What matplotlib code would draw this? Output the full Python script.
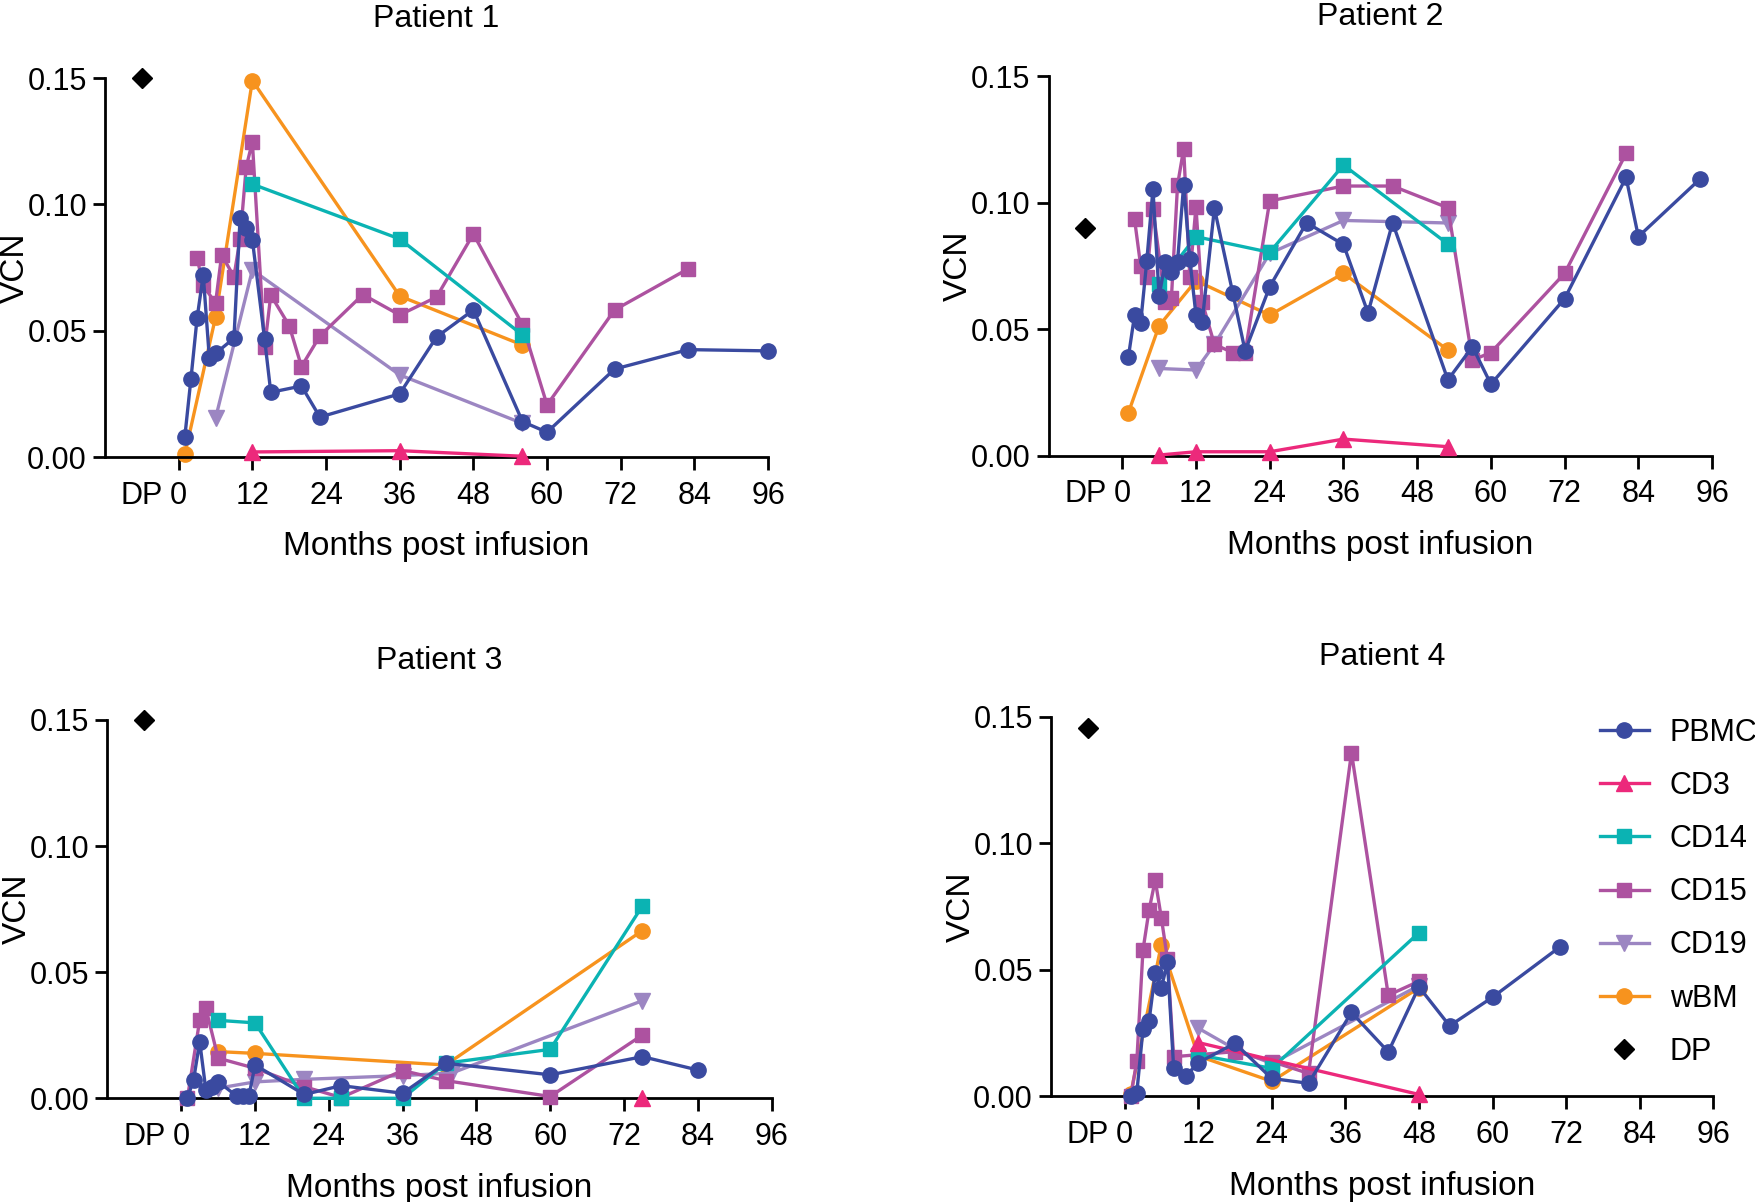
import matplotlib
matplotlib.use('Agg')
import matplotlib.pyplot as plt
from matplotlib.lines import Line2D

plt.rcParams['font.family'] = ['Liberation Sans', 'DejaVu Sans']

# series styles (legend order)
cell_types = ['PBMC', 'CD3', 'CD14', 'CD15', 'CD19', 'wBM']
colors = {'PBMC': '#3A4AA0', 'CD3': '#EC297B', 'CD14': '#0BB3B3',
          'CD15': '#AD52A0', 'CD19': '#9C86C2', 'wBM': '#F7931E'}
markers = {'PBMC': 'o', 'CD3': '^', 'CD14': 's', 'CD15': 's', 'CD19': 'v', 'wBM': 'o'}
month_ticks = [0, 12, 24, 36, 48, 60, 72, 84, 96]
vcn_ticks = [0.0, 0.05, 0.10, 0.15]
dp_month = -6

# ---- Patient 1
p1_pbmc_m = [1, 2, 3, 4, 5, 6, 9, 10, 11, 12, 14, 15, 20, 23, 36, 42, 48, 56, 60, 71, 83, 96]
p1_pbmc_v = [0.008, 0.031, 0.055, 0.072, 0.039, 0.041, 0.047, 0.0945, 0.0905, 0.086, 0.0466,
             0.0256, 0.0281, 0.0158, 0.025, 0.0475, 0.0582, 0.014, 0.0098, 0.0348, 0.0425, 0.042]
p1_cd3_m = [12, 36, 56]
p1_cd3_v = [0.002, 0.0025, 0.0003]
p1_cd14_m = [12, 36, 56]
p1_cd14_v = [0.108, 0.0863, 0.0483]
p1_cd15_m = [3, 4, 6, 7, 9, 10, 11, 12, 14, 15, 18, 20, 23, 30, 36, 42, 48, 56, 60, 71, 83]
p1_cd15_v = [0.0787, 0.068, 0.0608, 0.080, 0.0714, 0.0863, 0.1148, 0.1247, 0.0434, 0.0641, 0.052,
             0.0358, 0.0479, 0.0643, 0.0562, 0.0633, 0.0883, 0.0523, 0.0206, 0.0582, 0.0745]
p1_cd19_m = [6, 12, 36, 56]
p1_cd19_v = [0.0153, 0.074, 0.0325, 0.0133]
p1_wbm_m = [1, 6, 12, 36, 56]
p1_wbm_v = [0.001, 0.0553, 0.149, 0.0637, 0.0443]
p1_dp = 0.150

# ---- Patient 2
p2_pbmc_m = [1, 2, 3, 4, 5, 6, 7, 8, 9, 10, 11, 12, 13, 15, 18, 20, 24, 30, 36, 40, 44, 53,
             57, 60, 72, 82, 84, 94]
p2_pbmc_v = [0.0391, 0.0555, 0.0526, 0.0771, 0.1054, 0.0631, 0.0767, 0.0727, 0.0767, 0.1072,
             0.0776, 0.0556, 0.0527, 0.0978, 0.0642, 0.0414, 0.0668, 0.0921, 0.0835, 0.0565,
             0.0921, 0.030, 0.0431, 0.0283, 0.0621, 0.110, 0.0866, 0.1093]
p2_cd3_m = [6, 12, 24, 36, 53]
p2_cd3_v = [0.0003, 0.0016, 0.0016, 0.0066, 0.0036]
p2_cd14_m = [6, 12, 24, 36, 53]
p2_cd14_v = [0.068, 0.0866, 0.0804, 0.1149, 0.0837]
p2_cd15_m = [2, 3, 4, 5, 7, 8, 9, 10, 11, 12, 13, 15, 18, 20, 24, 36, 44, 53, 57, 60, 72, 82]
p2_cd15_v = [0.0935, 0.0751, 0.0705, 0.0975, 0.0609, 0.0622, 0.107, 0.1213, 0.0708, 0.0984,
             0.0609, 0.044, 0.0408, 0.0408, 0.1007, 0.1066, 0.1066, 0.098, 0.0378, 0.0408,
             0.0721, 0.1195]
p2_cd19_m = [6, 12, 15, 24, 36, 53]
p2_cd19_v = [0.0345, 0.0339, 0.044, 0.080, 0.093, 0.092]
p2_wbm_m = [1, 6, 12, 24, 36, 53]
p2_wbm_v = [0.017, 0.0514, 0.0692, 0.0556, 0.0721, 0.0418]
p2_dp = 0.0901

# ---- Patient 3
p3_pbmc_m = [1, 2, 3, 4, 5, 6, 9, 10, 11, 12, 20, 26, 36, 43, 60, 75, 84]
p3_pbmc_v = [0.0, 0.0073, 0.0224, 0.0033, 0.0046, 0.0066, 0.0009, 0.0009, 0.0009, 0.0132,
             0.0015, 0.005, 0.002, 0.0139, 0.0093, 0.0165, 0.0112]
p3_cd3_m = [75]
p3_cd3_v = [0.0]
p3_cd14_m = [6, 12, 20, 26, 36, 43, 60, 75]
p3_cd14_v = [0.0309, 0.0299, 0.0, 0.0, 0.0, 0.0139, 0.0194, 0.0763]
p3_cd15_m = [1, 3, 4, 6, 12, 20, 26, 36, 43, 60, 75]
p3_cd15_v = [0.0, 0.031, 0.0357, 0.0159, 0.0119, 0.0046, 0.0003, 0.011, 0.007, 0.0007, 0.0251]
p3_cd19_m = [6, 12, 20, 36, 44, 75]
p3_cd19_v = [0.004, 0.0065, 0.0075, 0.009, 0.010, 0.0387]
p3_wbm_m = [6, 12, 43, 75]
p3_wbm_v = [0.0185, 0.0178, 0.0132, 0.0665]
p3_dp = 0.150

# ---- Patient 4
p4_pbmc_m = [1, 2, 3, 4, 5, 6, 7, 8, 10, 12, 18, 24, 30, 37, 43, 48, 53, 60, 71]
p4_pbmc_v = [0.0, 0.0015, 0.0265, 0.030, 0.0488, 0.0429, 0.053, 0.0114, 0.0081, 0.0133, 0.021,
             0.0071, 0.0052, 0.0332, 0.0176, 0.0433, 0.0279, 0.0392, 0.0591]
p4_cd3_m = [12, 48]
p4_cd3_v = [0.0213, 0.0008]
p4_cd14_m = [12, 24, 48]
p4_cd14_v = [0.0164, 0.0111, 0.0647]
p4_cd15_m = [1, 2, 3, 4, 5, 6, 7, 8, 18, 24, 30, 37, 43, 48]
p4_cd15_v = [0.0, 0.014, 0.0578, 0.0737, 0.0855, 0.0705, 0.0542, 0.0157, 0.0177, 0.0138,
             0.0091, 0.1358, 0.040, 0.0455]
p4_cd19_m = [12, 18, 24, 48]
p4_cd19_v = [0.027, 0.0187, 0.013, 0.0438]
p4_wbm_m = [1, 6, 12, 24, 48]
p4_wbm_v = [0.001, 0.060, 0.016, 0.006, 0.0429]
p4_dp = 0.1456

panels = [
    ('Patient 1', [0.0598, 0.6198, 0.3776, 0.3153],
     {'PBMC': (p1_pbmc_m, p1_pbmc_v), 'CD3': (p1_cd3_m, p1_cd3_v), 'CD14': (p1_cd14_m, p1_cd14_v),
      'CD15': (p1_cd15_m, p1_cd15_v), 'CD19': (p1_cd19_m, p1_cd19_v), 'wBM': (p1_wbm_m, p1_wbm_v)},
     p1_dp),
    ('Patient 2', [0.5971, 0.6208, 0.3779, 0.3158],
     {'PBMC': (p2_pbmc_m, p2_pbmc_v), 'CD3': (p2_cd3_m, p2_cd3_v), 'CD14': (p2_cd14_m, p2_cd14_v),
      'CD15': (p2_cd15_m, p2_cd15_v), 'CD19': (p2_cd19_m, p2_cd19_v), 'wBM': (p2_wbm_m, p2_wbm_v)},
     p2_dp),
    ('Patient 3', [0.0612, 0.0863, 0.3782, 0.3147],
     {'PBMC': (p3_pbmc_m, p3_pbmc_v), 'CD3': (p3_cd3_m, p3_cd3_v), 'CD14': (p3_cd14_m, p3_cd14_v),
      'CD15': (p3_cd15_m, p3_cd15_v), 'CD19': (p3_cd19_m, p3_cd19_v), 'wBM': (p3_wbm_m, p3_wbm_v)},
     p3_dp),
    ('Patient 4', [0.5985, 0.0878, 0.3772, 0.3159],
     {'PBMC': (p4_pbmc_m, p4_pbmc_v), 'CD3': (p4_cd3_m, p4_cd3_v), 'CD14': (p4_cd14_m, p4_cd14_v),
      'CD15': (p4_cd15_m, p4_cd15_v), 'CD19': (p4_cd19_m, p4_cd19_v), 'wBM': (p4_wbm_m, p4_wbm_v)},
     p4_dp),
]

zorders = {'wBM': 2, 'CD19': 3, 'CD15': 4, 'CD14': 5, 'CD3': 6, 'PBMC': 7}
msizes = {'o': 11, 's': 10, '^': 11, 'v': 11}


def draw_panel(fig, title, rect, series, dp):
    ax = fig.add_axes(rect)
    for ct in reversed(cell_types):
        m, v = series[ct]
        mk = markers[ct]
        ax.plot(m, v, color=colors[ct], marker=mk, ms=msizes[mk], lw=2.4,
                clip_on=False, zorder=zorders[ct])
    ax.plot([dp_month], [dp], 'D', color='black', ms=10, clip_on=False, zorder=8)

    ax.set_xlim(-12, 96)
    ax.set_ylim(0, 0.15)
    ax.set_xticks([dp_month] + month_ticks)
    ax.set_xticklabels(['DP'] + [str(t) for t in month_ticks])
    ax.xaxis.get_major_ticks()[0].tick1line.set_visible(False)
    ax.set_yticks(vcn_ticks)
    ax.set_yticklabels(['%.2f' % t for t in vcn_ticks])
    for s in ['top', 'right']:
        ax.spines[s].set_visible(False)
    for s in ['left', 'bottom']:
        ax.spines[s].set_linewidth(2)
    ax.tick_params(length=9, width=2, labelsize=22)
    ax.tick_params(axis='x', pad=8)
    ax.tick_params(axis='y', pad=4)
    ax.set_xlabel('Months post infusion', fontsize=24, labelpad=15)
    ax.set_ylabel('VCN', fontsize=24)
    ax.yaxis.set_label_coords(-0.112, 0.5)
    ax.set_title(title, fontsize=23, pad=37)
    return ax


fig = plt.figure(figsize=(17.56, 12.02), dpi=100)
for title, rect, series, dp in panels:
    draw_panel(fig, title, rect, series, dp)

handles = []
for ct in cell_types:
    mk = markers[ct]
    handles.append(Line2D([], [], color=colors[ct], marker=mk, ms=msizes[mk], lw=2.4))
handles.append(Line2D([], [], color='black', marker='D', ms=10, linestyle='none'))
fig.legend(handles, cell_types + ['DP'], loc='upper left', bbox_to_anchor=(0.911, 0.403),
           frameon=False, fontsize=22, handlelength=1.6, handletextpad=0.7,
           labelspacing=0.76, borderpad=0, borderaxespad=0)

fig.savefig('out.png', dpi=100)
